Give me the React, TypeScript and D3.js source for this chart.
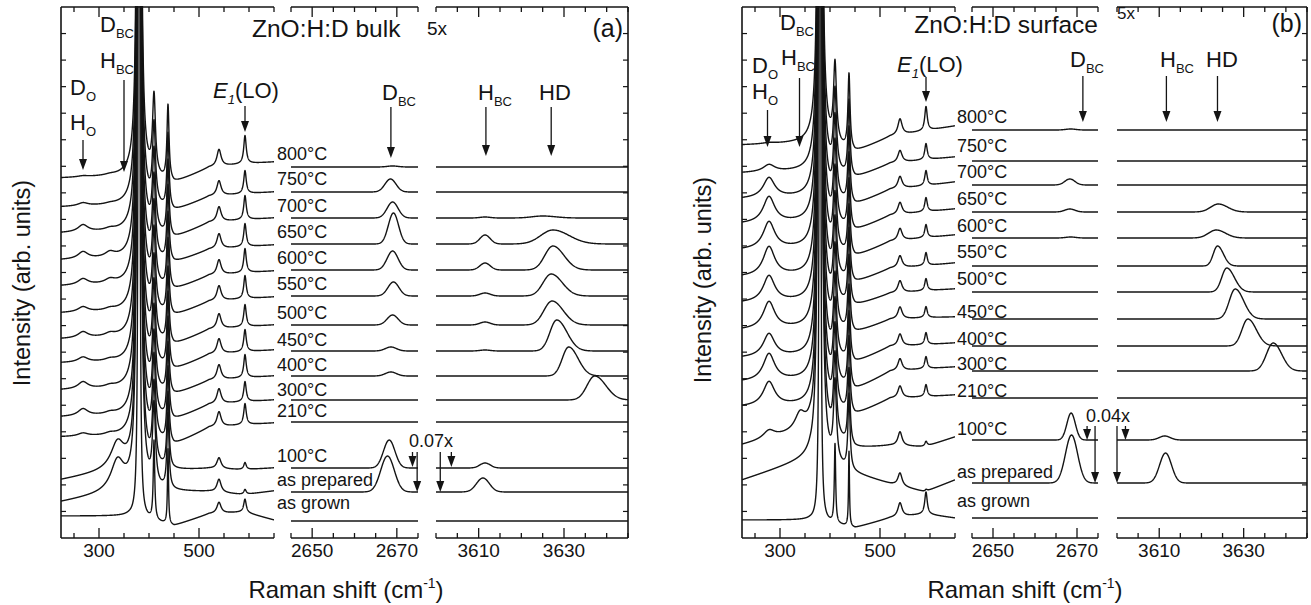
import React from "react";
import * as d3 from "d3";

// ---------------- categories ----------------
const tempLabels = ["800°C", "750°C", "700°C", "650°C", "600°C", "550°C", "500°C", "450°C", "400°C", "300°C", "210°C", "100°C", "as prepared", "as grown"];

// ZnO lattice modes (cm-1): A1(TO), E1(TO), E2(high) — shared amplitude / half width
const phononPos = [380, 410, 438];
const phononHeight = [3000, 79, 75];
const phononHalfWidth = [1.7, 3.5, 2.5];
const secondOrderPos = 540;
const e1loPos = 592;

// background anchors of the low-frequency segment (cm-1)
const bgAnchors = [225, 360, 450, 520, 590, 650];

// ---------------- (a) bulk ----------------
const bulkBackground = [
  [360, 362, 354, 370, 374, 376],
  [331, 333, 326, 341, 344, 346],
  [305, 307, 299, 315, 318, 320],
  [278, 280, 274, 288, 291, 293],
  [252, 254, 247, 262, 265, 267],
  [225, 227, 221, 236, 239, 241],
  [199, 201, 192, 208, 211, 213],
  [175, 176, 167, 183, 186, 188],
  [148, 150, 142, 157, 160, 162],
  [121, 123, 117, 133, 136, 138],
  [101, 102, 92, 110, 113, 115],
  [58, 70, 67, 69, 68, 70],
  [36, 48, 46, 46, 43, 47],
  [22, 22, 12, 24, 26, 18],
];
const bulkWidthFactor = [1, 1, 1, 1, 1, 1, 1, 1, 1, 1, 1, 1, 1, 0.5];
const bulkHO = [1, 3, 7, 7, 6, 5, 6, 5, 7, 7, 3, 0, 0, 0];
const bulkHO2 = [1, 1, 2, 5, 4, 2, 3, 2, 2, 2, 2, 0, 0, 0];
const bulkBCband = [0, 0, 0, 0, 0, 0, 0, 0, 0, 0, 0, 26, 30, 0];
const bulk540 = [17, 15, 15, 15, 15, 15, 15, 15, 15, 15, 15, 11, 13, 11];
const bulkE1LO = [28, 23, 24, 23, 24, 23, 22, 22, 23, 20, 21, 7, 5, 13];
const bulkBaseline = [371, 346, 320, 294, 268, 242, 213, 187, 162, 138, 116, 70, 46, 17];
const bulkDBCpos = [2669, 2668.5, 2669, 2669.2, 2669, 2669.2, 2669, 2668.6, 2668.6, 2669, 2669, 2668.2, 2667.8, 2669];
const bulkDBCheight = [1, 13, 16, 31, 19, 14, 10, 4, 4, 0, 0, 28, 36, 0];
const bulkDBCsigma = [1.3, 1.3, 1.3, 1.2, 1.3, 1.3, 1.3, 1.3, 1.3, 1.3, 1.3, 1.35, 1.6, 1.3];
const bulkHBCpos = [3611.5, 3611.5, 3611.5, 3611.5, 3611.5, 3611.5, 3611.5, 3611.5, 3611.5, 3611.5, 3611.5, 3611.5, 3611.0, 3611.5];
const bulkHBCheight = [0, 0, 1, 9, 7, 3, 3, 1, 0, 0, 0, 5, 14, 0];
const bulkHBCsigma = [1.2, 1.2, 1.2, 1.2, 1.2, 1.2, 1.2, 1.2, 1.2, 1.2, 1.2, 1.2, 1.5, 1.2];
const bulkHDpos = [3627, 3627, 3625, 3627.4, 3627.4, 3627, 3627.2, 3628.3, 3631.1, 3637.2, 3630, 3630, 3630, 3630];
const bulkHDheight = [0, 0, 2, 14, 24, 22, 24, 31, 29, 24, 0, 0, 0, 0];
const bulkHDsigmaL = [2, 2, 2.5, 2.85, 1.9, 1.9, 1.9, 1.6, 1.5, 1.8, 2, 2, 2, 2];
const bulkHDsigmaR = [3, 3, 3, 3.8, 2.6, 2.6, 2.6, 2.4, 2.2, 2.6, 3, 3, 3, 3];

// ---------------- (b) surface ----------------
const surfBackground = [
  [393, 395, 385, 401, 407, 412],
  [365, 367, 359, 374, 378, 381],
  [339, 341, 332, 348, 352, 356],
  [314, 316, 306, 322, 326, 329],
  [288, 290, 280, 296, 300, 303],
  [261, 263, 254, 269, 272, 275],
  [235, 237, 231, 244, 247, 249],
  [208, 210, 204, 218, 220, 221],
  [180, 182, 174, 191, 193, 195],
  [156, 158, 147, 166, 169, 171],
  [131, 133, 122, 139, 141, 143],
  [93, 108, 89, 92, 91, 101],
  [58, 80, 64, 54, 46, 58],
  [18, 18, 10, 20, 24, 20],
];
const surfWidthFactor = [1, 1, 1, 1, 1, 1, 1, 1, 1, 1, 1, 1, 1, 0.45];
const surfHO = [1, 7, 20, 26, 27, 29, 26, 27, 23, 27, 24, 8, 0, 0];
const surfHO2 = [0, 0, 0, 0, 0, 0, 0, 0, 0, 0, 0, 0, 0, 0];
const surfBCband = [0, 0, 0, 0, 0, 0, 0, 0, 0, 0, 0, 16, 0, 0];
const surf540 = [16, 12, 12, 12, 12, 12, 12, 12, 12, 12, 12, 14, 13, 14];
const surfE1LO = [24, 16, 15, 14, 13, 13, 12, 11, 12, 12, 12, 5, 2, 22];
const surfBaseline = [408, 377, 353, 326, 300, 272, 246, 219, 192, 167, 140, 98, 55, 20];
const surfDBCpos = [2668.5, 2668.5, 2668.3, 2668.3, 2668.5, 2668.5, 2668.5, 2668.5, 2668.5, 2668.5, 2668.5, 2668.6, 2668.7, 2668.5];
const surfDBCheight = [1, 0, 6, 3, 1, 0, 0, 0, 0, 0, 0, 27, 48, 0];
const surfDBCsigma = [1.2, 1.2, 1.2, 1.2, 1.2, 1.2, 1.2, 1.2, 1.2, 1.2, 1.2, 1.0, 1.45, 1.2];
const surfHBCpos = [3611.5, 3611.5, 3611.5, 3611.5, 3611.5, 3611.5, 3611.5, 3611.5, 3611.5, 3611.5, 3611.5, 3611.3, 3611.5, 3611.5];
const surfHBCheight = [0, 0, 0, 0, 0, 0, 0, 0, 0, 0, 0, 4, 30, 0];
const surfHBCsigma = [1.3, 1.3, 1.3, 1.3, 1.3, 1.3, 1.3, 1.3, 1.3, 1.3, 1.3, 1.3, 1.4, 1.3];
const surfHDpos = [3624, 3624, 3624, 3624, 3623.5, 3623.8, 3626, 3628, 3631, 3637, 3630, 3630, 3630, 3630];
const surfHDheight = [0, 0, 0, 8, 8, 20, 24, 30, 27, 28, 0, 0, 0, 0];
const surfHDsigmaL = [1.8, 1.8, 1.8, 1.8, 1.8, 1.0, 1.2, 1.4, 1.4, 1.6, 1.8, 1.8, 1.8, 1.8];
const surfHDsigmaR = [2.2, 2.2, 2.2, 2.2, 2.2, 1.4, 1.8, 2.0, 2.0, 2.0, 2.2, 2.2, 2.2, 2.2];

// axis ticks
const seg1Major = [300, 500];
const seg1Minor = [250, 350, 400, 450, 550, 600, 650];
const seg2Major = [2650, 2670];
const seg2Minor = [2645, 2655, 2660, 2665, 2675];
const seg3Major = [3610, 3630];
const seg3Minor = [3600, 3605, 3615, 3620, 3625, 3635, 3640, 3645];

const seg1Domain = [224, 650];
const seg2Domain = [2645, 2675];
const seg3Domain = [3600, 3645];

const panelData = [
  {
    bg: bulkBackground, wf: bulkWidthFactor, ho: bulkHO, hoPos: 268, hoW: 12, ho2: bulkHO2, bc: bulkBCband, bcPos: 337, bcW: 16,
    p540: bulk540, lo: bulkE1LO, base: bulkBaseline,
    dbcPos: bulkDBCpos, dbcH: bulkDBCheight, dbcS: bulkDBCsigma,
    hbcPos: bulkHBCpos, hbcH: bulkHBCheight, hbcS: bulkHBCsigma,
    hdPos: bulkHDpos, hdH: bulkHDheight, hdSL: bulkHDsigmaL, hdSR: bulkHDsigmaR,
  },
  {
    bg: surfBackground, wf: surfWidthFactor, ho: surfHO, hoPos: 278, hoW: 14, ho2: surfHO2, bc: surfBCband, bcPos: 340, bcW: 12,
    p540: surf540, lo: surfE1LO, base: surfBaseline,
    dbcPos: surfDBCpos, dbcH: surfDBCheight, dbcS: surfDBCsigma,
    hbcPos: surfHBCpos, hbcH: surfHBCheight, hbcS: surfHBCsigma,
    hdPos: surfHDpos, hdH: surfHDheight, hdSL: surfHDsigmaL, hdSR: surfHDsigmaR,
  },
];

const layouts = [
  { s1: [61, 274], s2: [291, 418], s3: [436, 628], labelX: 277, labelLift: [7, 7, 6, 6, 6, 6, 6, 5, 5, 4, 5, 6, 6, 12] },
  { s1: [742, 955], s2: [972, 1098], s3: [1117, 1307], labelX: 957, labelLift: [7, 9, 7, 7, 6, 8, 7, 1, 1, 1, 1, 5, 5, 11] },
];

const Y_TOP = 7;
const Y_BOT = 538;
const FONT = "'Liberation Sans', Arial, Helvetica, sans-serif";
const INK = "#141414";
const LW = 1.4;

const lor = (x: number, c: number, h: number, g: number) => (h * g * g) / ((x - c) * (x - c) + g * g);
const gau = (x: number, c: number, h: number, sl: number, sr: number) => {
  const s = x < c ? sl : sr;
  return h * Math.exp(-0.5 * ((x - c) / s) * ((x - c) / s));
};

function Arrow({ x, y1, y2 }: { x: number; y1: number; y2: number }) {
  const hl = 11;
  const hw = 4;
  return (
    <g>
      <line x1={x} x2={x} y1={y1} y2={y2 - hl + 1} stroke={INK} strokeWidth={1.3} />
      <path d={`M${x - hw},${y2 - hl} L${x + hw},${y2 - hl} L${x},${y2} Z`} fill={INK} />
    </g>
  );
}

function Sub({ x, y, main, sub, size = 22, subSize = 13 }: any) {
  return (
    <text x={x} y={y} fontSize={size} fontFamily={FONT} fill={INK}>
      {main}
      <tspan fontSize={subSize} dy={6}>{sub}</tspan>
    </text>
  );
}

function Panel({ pi }: { pi: number }) {
  const d = panelData[pi];
  const L = layouts[pi];
  const y = d3.scaleLinear().domain([0, Y_BOT - Y_TOP]).range([Y_BOT, Y_TOP]);
  const x1 = d3.scaleLinear().domain(seg1Domain).range(L.s1);
  const x2 = d3.scaleLinear().domain(seg2Domain).range(L.s2);
  const x3 = d3.scaleLinear().domain(seg3Domain).range(L.s3);

  const grid1 = d3.range(seg1Domain[0], seg1Domain[1] + 0.001, 0.2);
  const grid2 = d3.range(seg2Domain[0], seg2Domain[1] + 0.001, 0.1);
  const grid3 = d3.range(seg3Domain[0], seg3Domain[1] + 0.001, 0.1);

  const paths: any[] = [];
  tempLabels.forEach((_, i) => {
    const bg = d3.scaleLinear().domain(bgAnchors).range(d.bg[i]).clamp(true);
    const wf = d.wf[i];
    const s1 = grid1.map((v) => {
      let u = bg(v);
      for (let k = 0; k < phononPos.length; k++) u += lor(v, phononPos[k], phononHeight[k], phononHalfWidth[k] * wf);
      u += lor(v, secondOrderPos, d.p540[i], 5);
      u += lor(v, e1loPos, d.lo[i], 3);
      u += lor(v, d.hoPos, d.ho[i], d.hoW);
      u += lor(v, 322, d.ho2[i], 12);
      u += lor(v, d.bcPos, d.bc[i], d.bcW);
      return [v, u] as [number, number];
    });
    const s2 = grid2.map((v) => [v, d.base[i] + gau(v, d.dbcPos[i], d.dbcH[i], d.dbcS[i], d.dbcS[i])] as [number, number]);
    const s3 = grid3.map((v) => [
      v,
      d.base[i] + gau(v, d.hbcPos[i], d.hbcH[i], d.hbcS[i], d.hbcS[i]) + gau(v, d.hdPos[i], d.hdH[i], d.hdSL[i], d.hdSR[i]),
    ] as [number, number]);
    const l1 = d3.line<[number, number]>().x((p) => x1(p[0])).y((p) => y(Math.min(p[1], 560)));
    const l2 = d3.line<[number, number]>().x((p) => x2(p[0])).y((p) => y(p[1]));
    const l3 = d3.line<[number, number]>().x((p) => x3(p[0])).y((p) => y(p[1]));
    paths.push(<path key={`a${i}`} d={l1(s1) || ""} clipPath={`url(#clip1-${pi})`} fill="none" stroke={INK} strokeWidth={LW} strokeLinejoin="round" />);
    paths.push(<path key={`b${i}`} d={l2(s2) || ""} fill="none" stroke={INK} strokeWidth={LW} strokeLinejoin="round" />);
    paths.push(<path key={`c${i}`} d={l3(s3) || ""} fill="none" stroke={INK} strokeWidth={LW} strokeLinejoin="round" />);
  });

  const segs = [
    { sc: x1, r: L.s1, maj: seg1Major, min: seg1Minor },
    { sc: x2, r: L.s2, maj: seg2Major, min: seg2Minor },
    { sc: x3, r: L.s3, maj: seg3Major, min: seg3Minor },
  ];
  const yTicks = d3.range(1, 20).map((k) => Y_TOP + k * 26.55);

  return (
    <g>
      <defs>
        <clipPath id={`clip1-${pi}`}>
          <rect x={L.s1[0]} y={Y_TOP - 1} width={L.s1[1] - L.s1[0]} height={Y_BOT - Y_TOP + 1} />
        </clipPath>
      </defs>
      {paths}
      {segs.map((s, si) => (
        <g key={si}>
          <line x1={s.r[0]} x2={s.r[1]} y1={Y_BOT} y2={Y_BOT} stroke={INK} strokeWidth={1.6} />
          <line x1={s.r[0]} x2={s.r[1]} y1={Y_TOP} y2={Y_TOP} stroke={INK} strokeWidth={1.6} />
          {s.maj.map((t) => (
            <g key={`M${t}`}>
              <line x1={s.sc(t)} x2={s.sc(t)} y1={Y_BOT} y2={Y_BOT - 10} stroke={INK} strokeWidth={1.3} />
              <line x1={s.sc(t)} x2={s.sc(t)} y1={Y_TOP} y2={Y_TOP + 10} stroke={INK} strokeWidth={1.3} />
              <text x={s.sc(t)} y={557} textAnchor="middle" fontSize={19} fontFamily={FONT} fill={INK}>{t}</text>
            </g>
          ))}
          {s.min.map((t) => (
            <g key={`m${t}`}>
              <line x1={s.sc(t)} x2={s.sc(t)} y1={Y_BOT} y2={Y_BOT - 5} stroke={INK} strokeWidth={1.3} />
              <line x1={s.sc(t)} x2={s.sc(t)} y1={Y_TOP} y2={Y_TOP + 5} stroke={INK} strokeWidth={1.3} />
            </g>
          ))}
        </g>
      ))}
      <line x1={L.s1[0]} x2={L.s1[0]} y1={Y_TOP} y2={Y_BOT} stroke={INK} strokeWidth={1.6} />
      <line x1={L.s3[1]} x2={L.s3[1]} y1={Y_TOP} y2={Y_BOT} stroke={INK} strokeWidth={1.6} />
      {yTicks.map((t, k) => (
        <g key={`y${k}`}>
          <line x1={L.s1[0]} x2={L.s1[0] + 5} y1={t} y2={t} stroke={INK} strokeWidth={1.2} />
          <line x1={L.s3[1]} x2={L.s3[1] - 5} y1={t} y2={t} stroke={INK} strokeWidth={1.2} />
        </g>
      ))}
      {tempLabels.map((lab, i) => (
        <text key={lab} x={L.labelX} y={y(d.base[i]) - L.labelLift[i]} fontSize={18} fontFamily={FONT} fill={INK}>{lab}</text>
      ))}
    </g>
  );
}

export default function App() {
  const xa1 = d3.scaleLinear().domain(seg1Domain).range(layouts[0].s1);
  const xa2 = d3.scaleLinear().domain(seg2Domain).range(layouts[0].s2);
  const xa3 = d3.scaleLinear().domain(seg3Domain).range(layouts[0].s3);
  const xb1 = d3.scaleLinear().domain(seg1Domain).range(layouts[1].s1);
  const xb2 = d3.scaleLinear().domain(seg2Domain).range(layouts[1].s2);
  const xb3 = d3.scaleLinear().domain(seg3Domain).range(layouts[1].s3);
  const t = { fontFamily: FONT, fill: INK } as any;
  return (
    <svg width={1311} height={605} style={{ position: "absolute", left: 0, top: 0, background: "#fff" }}>
      <rect x={0} y={0} width={1311} height={605} fill="#fff" />
      <Panel pi={0} />
      <Panel pi={1} />

      {/* ---- panel (a) annotations ---- */}
      <text x={252} y={37} fontSize={24.5} {...t}>ZnO:H:D bulk</text>
      <text x={427} y={35} fontSize={19} {...t}>5x</text>
      <text x={623} y={37} fontSize={25} textAnchor="end" {...t}>(a)</text>
      <Sub x={100} y={32} main="D" sub="BC" />
      <Sub x={100} y={68} main="H" sub="BC" />
      <Sub x={70} y={95} main="D" sub="O" />
      <Sub x={70} y={130} main="H" sub="O" />
      <Arrow x={xa1(268)} y1={140} y2={170} />
      <Arrow x={xa1(350)} y1={80} y2={172} />
      <text x={213} y={98} fontSize={22} {...t}>
        <tspan fontStyle="italic">E</tspan>
        <tspan fontStyle="italic" fontSize={13} dy={6}>1</tspan>
        <tspan dy={-6}>(LO)</tspan>
      </text>
      <Arrow x={xa1(592)} y1={106} y2={132} />
      <Sub x={382} y={100} main="D" sub="BC" />
      <Arrow x={xa2(2668.6)} y1={107} y2={158} />
      <Sub x={478} y={100} main="H" sub="BC" />
      <Arrow x={xa3(3611.7)} y1={107} y2={156} />
      <text x={539} y={100} fontSize={22} {...t}>HD</text>
      <Arrow x={xa3(3627)} y1={107} y2={156} />
      <text x={431} y={447} fontSize={18} textAnchor="middle" {...t}>0.07x</text>
      <Arrow x={xa2(2673.7)} y1={452} y2={467} />
      <Arrow x={xa2(2674.8)} y1={452} y2={492} />
      <Arrow x={xa3(3601)} y1={452} y2={492} />
      <Arrow x={xa3(3603.6)} y1={452} y2={467} />
      <text transform="translate(30,283) rotate(-90)" textAnchor="middle" fontSize={23.5} {...t}>Intensity (arb. units)</text>
      <text x={346} y={598} textAnchor="middle" fontSize={24} {...t}>
        Raman shift (cm<tspan fontSize={14} dy={-10}>-1</tspan><tspan dy={10}>)</tspan>
      </text>

      {/* ---- panel (b) annotations ---- */}
      <text x={1098} y={33} fontSize={24.5} textAnchor="end" {...t}>ZnO:H:D surface</text>
      <text x={1117} y={19} fontSize={17} {...t}>5x</text>
      <text x={1302} y={32} fontSize={25} textAnchor="end" {...t}>(b)</text>
      <Sub x={780} y={30} main="D" sub="BC" />
      <Sub x={781} y={65} main="H" sub="BC" />
      <Sub x={752} y={73} main="D" sub="O" />
      <Sub x={752} y={99} main="H" sub="O" />
      <Arrow x={xb1(275)} y1={110} y2={147} />
      <Arrow x={xb1(339)} y1={78} y2={147} />
      <text x={897} y={72} fontSize={22} {...t}>
        <tspan fontStyle="italic">E</tspan>
        <tspan fontStyle="italic" fontSize={13} dy={6}>1</tspan>
        <tspan dy={-6}>(LO)</tspan>
      </text>
      <Arrow x={xb1(592)} y1={77} y2={102} />
      <Sub x={1070} y={67} main="D" sub="BC" />
      <Arrow x={xb2(2671.4)} y1={76} y2={122} />
      <Sub x={1160} y={67} main="H" sub="BC" />
      <Arrow x={xb3(3611.7)} y1={76} y2={122} />
      <text x={1206} y={67} fontSize={22} {...t}>HD</text>
      <Arrow x={xb3(3623.8)} y1={76} y2={122} />
      <text x={1108} y={422} fontSize={18} textAnchor="middle" {...t}>0.04x</text>
      <Arrow x={xb2(2672.4)} y1={426} y2={440} />
      <Arrow x={xb2(2674.3)} y1={426} y2={483} />
      <Arrow x={xb3(3600)} y1={426} y2={483} />
      <Arrow x={xb3(3602)} y1={426} y2={440} />
      <text transform="translate(711,280) rotate(-90)" textAnchor="middle" fontSize={23.5} {...t}>Intensity (arb. units)</text>
      <text x={1025} y={598} textAnchor="middle" fontSize={24} {...t}>
        Raman shift (cm<tspan fontSize={14} dy={-10}>-1</tspan><tspan dy={10}>)</tspan>
      </text>
    </svg>
  );
}
